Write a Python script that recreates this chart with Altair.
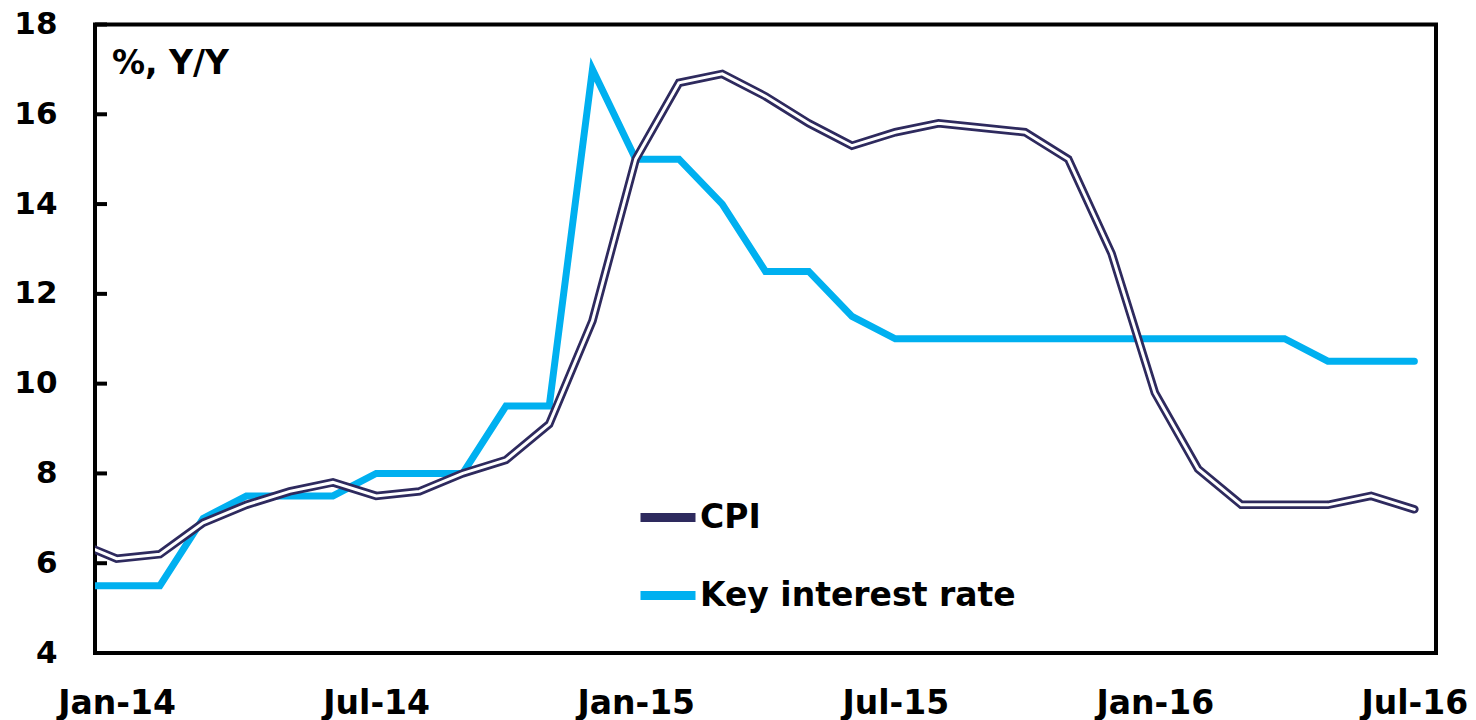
import altair as alt
import pandas as pd

# Monthly data; the first point (Dec-13) lies left of the plot and is clipped
months = ["Dec-13",
          "Jan-14", "Feb-14", "Mar-14", "Apr-14", "May-14", "Jun-14",
          "Jul-14", "Aug-14", "Sep-14", "Oct-14", "Nov-14", "Dec-14",
          "Jan-15", "Feb-15", "Mar-15", "Apr-15", "May-15", "Jun-15",
          "Jul-15", "Aug-15", "Sep-15", "Oct-15", "Nov-15", "Dec-15",
          "Jan-16", "Feb-16", "Mar-16", "Apr-16", "May-16", "Jun-16",
          "Jul-16"]
cpi = [6.5,
       6.1, 6.2, 6.9, 7.3, 7.6, 7.8,
       7.5, 7.6, 8.0, 8.3, 9.1, 11.4,
       15.0, 16.7, 16.9, 16.4, 15.8, 15.3,
       15.6, 15.8, 15.7, 15.6, 15.0, 12.9,
       9.8, 8.1, 7.3, 7.3, 7.3, 7.5,
       7.2]
key_rate = [5.5,
            5.5, 5.5, 7.0, 7.5, 7.5, 7.5,
            8.0, 8.0, 8.0, 9.5, 9.5, 17.0,
            15.0, 15.0, 14.0, 12.5, 12.5, 11.5,
            11.0, 11.0, 11.0, 11.0, 11.0, 11.0,
            11.0, 11.0, 11.0, 11.0, 10.5, 10.5,
            10.5]
series_names = ["CPI", "Key interest rate"]
x_label_months = ["Jan-14", "Jul-14", "Jan-15", "Jul-15", "Jan-16", "Jul-16"]
y_ticks = [4, 6, 8, 10, 12, 14, 16, 18]
unit_label = "%, Y/Y"

NAVY = "#2E2A5E"
BLUE = "#00B0F0"
FONT = "DejaVu Sans"
FS = 33
FS_Y = 31

idx = [i - 1 for i in range(len(months))]
df = pd.DataFrame({
    "i": idx * 2,
    "month": months * 2,
    "value": cpi + key_rate,
    "series": [series_names[0]] * len(months) + [series_names[1]] * len(months),
})

x_vals = [months.index(m) - 1 for m in x_label_months]
label_expr = "[" + ",".join("'%s'" % m for m in months) + "][datum.value + 1]"

x_enc = alt.X("i:Q",
              scale=alt.Scale(domain=[-0.5, 30.5], nice=False, zero=False),
              axis=alt.Axis(values=x_vals, labelExpr=label_expr, ticks=False,
                            tickSize=0, domain=False, grid=False, title=None,
                            labelFont=FONT, labelFontSize=FS,
                            labelFontWeight="bold", labelColor="black",
                            labelPadding=34, labelFlush=False))
y_scale = alt.Scale(domain=[4, 18], nice=False, zero=False)
y_enc = alt.Y("value:Q", scale=y_scale,
              axis=alt.Axis(values=y_ticks, ticks=False, tickSize=0,
                            domain=False, grid=False, title=None,
                            labelFont=FONT, labelFontSize=FS_Y,
                            labelFontWeight="bold", labelColor="black",
                            labelPadding=38))
color_enc = alt.Color("series:N",
                      scale=alt.Scale(domain=series_names, range=[NAVY, BLUE]),
                      legend=alt.Legend(title=None, orient="none",
                                        legendX=541, legendY=461,
                                        symbolType="stroke", symbolSize=3025,
                                        symbolStrokeWidth=9,
                                        labelFont=FONT, labelFontSize=FS,
                                        labelFontWeight="bold",
                                        labelColor="black", labelOffset=0,
                                        labelLimit=0,
                                        rowPadding=28, padding=0))

base = alt.Chart(df)
blue_line = base.transform_filter(alt.datum.series == series_names[1]).mark_line(
    strokeWidth=7, strokeCap="round", clip=True).encode(x=x_enc, y=y_enc, color=color_enc)
cpi_outer = base.transform_filter(alt.datum.series == series_names[0]).mark_line(
    strokeWidth=8.5, strokeCap="round", clip=True).encode(x=x_enc, y=y_enc, color=color_enc)
cpi_inner = base.transform_filter(alt.datum.series == series_names[0]).mark_line(
    strokeWidth=3, strokeCap="round", color="white", clip=True).encode(x=x_enc, y=y_enc)

ticks = alt.Chart(pd.DataFrame({"value": y_ticks})).mark_rule(
    color="black", strokeWidth=4).encode(
    y=y_enc, x=alt.value(0), x2=alt.value(12))

unit_text = alt.Chart(pd.DataFrame({"t": [unit_label]})).mark_text(
    align="left", baseline="alphabetic", font=FONT, fontSize=FS,
    fontWeight="bold", color="black").encode(
    text="t:N", x=alt.value(17), y=alt.value(49))

chart = alt.layer(blue_line, cpi_outer, cpi_inner, ticks, unit_text).properties(
    width=1341, height=628.5,
    autosize=alt.AutoSizeParams(type="none"),
    padding={"left": 87, "top": 16.5, "right": 32, "bottom": 74},
    background="white",
).configure_view(stroke="black", strokeWidth=4)

chart.save("out.html", embed_options={"renderer": "svg", "actions": False})
